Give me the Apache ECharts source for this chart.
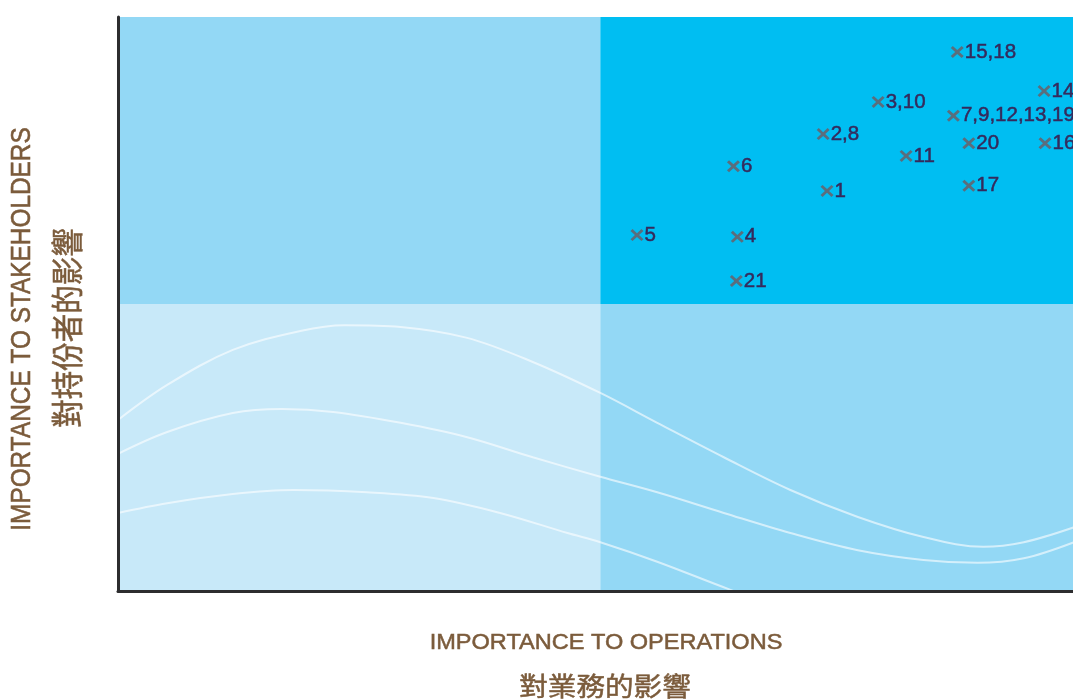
<!DOCTYPE html>
<html>
<head>
<meta charset="utf-8">
<title>Materiality Matrix</title>
<script src="https://cdn.jsdelivr.net/npm/echarts@6/dist/echarts.min.js"></script>
<style>
  html, body { margin: 0; padding: 0; background: #ffffff; }
  #chart { width: 1073px; height: 700px; }
</style>
</head>
<body>
<div id="chart"></div>
<script>
// Material topics: label, importance to operations (x), importance to stakeholders (y)
const pointLabels = ['1', '2,8', '3,10', '4', '5', '6', '7,9,12,13,19', '11', '14', '15,18', '16', '17', '20', '21'];
const operations = [7.35, 7.31, 7.88, 6.42, 5.38, 6.38, 8.66, 8.17, 9.60, 8.70, 9.61, 8.82, 8.82, 6.41];
const stakeholders = [6.97, 7.96, 8.52, 6.17, 6.20, 7.40, 8.28, 7.58, 8.71, 9.39, 7.80, 7.06, 7.80, 5.40];

// Axis ranges and the quadrant split (the operations axis runs off the right edge)
const xMin = 0;
const xMax = 9.9;
const yMin = 0;
const yMax = 10;
const split = 5;

// Decorative wave lines across the lower half
const waveUpper = [[0, 2.98], [0.51, 3.59], [1.19, 4.20], [1.89, 4.53], [2.35, 4.63], [2.93, 4.60], [3.62, 4.41], [4.30, 3.99], [5.0, 3.45], [5.59, 2.93], [6.28, 2.33], [6.97, 1.76], [7.67, 1.29], [8.35, 0.94], [8.97, 0.77], [9.39, 0.85], [9.91, 1.11]];
const waveMiddle = [[0, 2.39], [0.51, 2.77], [1.19, 3.10], [1.70, 3.17], [2.23, 3.12], [2.93, 2.93], [3.62, 2.68], [4.30, 2.33], [5.0, 1.99], [5.59, 1.72], [6.28, 1.36], [6.97, 1.01], [7.67, 0.71], [8.35, 0.54], [8.91, 0.49], [9.39, 0.57], [9.91, 0.85]];
const waveLower = [[0, 1.36], [0.51, 1.53], [1.19, 1.69], [1.82, 1.76], [2.58, 1.72], [3.27, 1.62], [3.96, 1.36], [4.66, 1.01], [5.0, 0.85], [5.59, 0.51], [6.35, 0.02], [6.9, -0.3]];

const quadrantColors = {
  topLeft: '#93d8f5',
  topRight: '#00bef2',
  bottomLeft: '#c8e9f9',
  bottomRight: '#93d8f5'
};

const titleColor = '#7b5b3b';
const labelColor = '#352a5c';
const enFont = '"Liberation Sans", Arial, Helvetica, sans-serif';
const zhFont = '"Noto Sans CJK TC", "Noto Sans CJK SC", sans-serif';

const crossPath = 'path://M1.6,0 L5,3.4 L8.4,0 L10,1.6 L6.6,5 L10,8.4 L8.4,10 L5,6.6 L1.6,10 L0,8.4 L3.4,5 L0,1.6 Z';

const chart = echarts.init(document.getElementById('chart'), null, { renderer: 'canvas' });

function waveSeries(data) {
  return {
    type: 'line',
    data: data,
    smooth: 0.35,
    symbol: 'none',
    silent: true,
    z: 2,
    lineStyle: { color: 'rgba(255,255,255,0.6)', width: 2 }
  };
}

function titleText(text, x, y, size, family, extra) {
  return Object.assign({
    type: 'text', x: x, y: y, silent: true,
    style: {
      text: text, fontSize: size, fontFamily: family,
      fill: titleColor, stroke: titleColor, lineWidth: 0.5,
      align: 'center', verticalAlign: 'middle'
    }
  }, extra);
}

const hiddenAxisParts = {
  axisTick: { show: false },
  axisLabel: { show: false },
  splitLine: { show: false }
};

chart.setOption({
  animation: false,
  backgroundColor: '#ffffff',
  grid: { left: 118, top: 17, right: 0, height: 574, containLabel: false },
  xAxis: Object.assign({
    type: 'value', min: xMin, max: xMax, z: 10,
    axisLine: { show: true, lineStyle: { color: '#2d2d2f', width: 3 } }
  }, hiddenAxisParts),
  yAxis: Object.assign({
    type: 'value', min: yMin, max: yMax, z: 10,
    axisLine: { show: true, lineStyle: { color: '#2d2d2f', width: 3 } }
  }, hiddenAxisParts),
  graphic: [
    titleText('IMPORTANCE TO OPERATIONS', 606, 643, 22, enFont, { scaleX: 1.07 }),
    titleText('對業務的影響', 605, 686, 26, zhFont, { scaleX: 1.1 }),
    titleText('IMPORTANCE TO STAKEHOLDERS', 22, 329, 24.4, enFont, { rotation: Math.PI / 2, scaleY: 1.15 }),
    titleText('對持份者的影響', 67, 328, 28.5, zhFont, { rotation: Math.PI / 2, scaleY: 1.1 })
  ],
  series: [
    {
      // quadrant backgrounds
      type: 'scatter',
      data: [],
      silent: true,
      z: 1,
      markArea: {
        silent: true,
        label: { show: false },
        data: [
          [{ xAxis: xMin, yAxis: split, itemStyle: { color: quadrantColors.topLeft } }, { xAxis: split, yAxis: yMax }],
          [{ xAxis: split, yAxis: split, itemStyle: { color: quadrantColors.topRight } }, { xAxis: xMax, yAxis: yMax }],
          [{ xAxis: xMin, yAxis: yMin, itemStyle: { color: quadrantColors.bottomLeft } }, { xAxis: split, yAxis: split }],
          [{ xAxis: split, yAxis: yMin, itemStyle: { color: quadrantColors.bottomRight } }, { xAxis: xMax, yAxis: split }]
        ]
      }
    },
    waveSeries(waveUpper),
    waveSeries(waveMiddle),
    waveSeries(waveLower),
    {
      type: 'scatter',
      z: 3,
      data: operations.map((x, i) => ({ name: pointLabels[i], value: [x, stakeholders[i]] })),
      symbol: crossPath,
      symbolSize: [13, 12],
      itemStyle: { color: '#5a6e7d', opacity: 1 },
      labelLayout: { hideOverlap: false },
      label: {
        show: true,
        position: 'right',
        distance: 1,
        formatter: '{b}',
        color: labelColor,
        textBorderColor: labelColor,
        textBorderWidth: 0.5,
        fontSize: 20.5,
        fontFamily: enFont
      }
    }
  ]
});
</script>
</body>
</html>
